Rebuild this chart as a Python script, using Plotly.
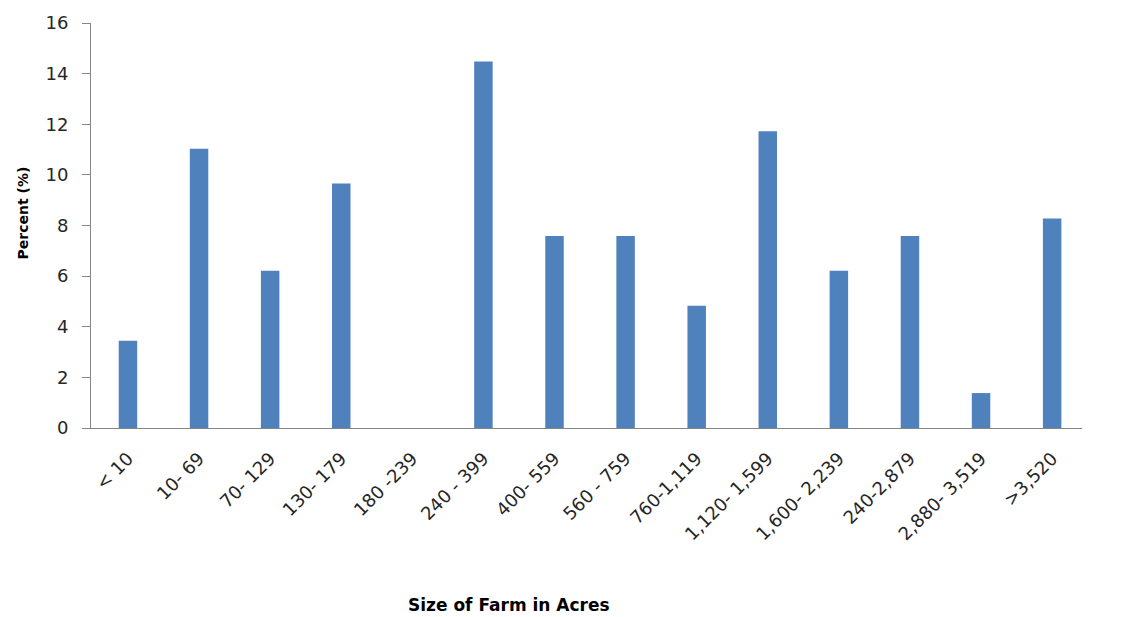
import plotly.graph_objects as go

# Farm size classes (acres) and share of farms in each class (%)
size_classes = ["< 10", "10- 69", "70- 129", "130- 179", "180 -239", "240 - 399",
                "400- 559", "560 - 759", "760-1,119", "1,120- 1,599", "1,600- 2,239",
                "240-2,879", "2,880- 3,519", ">3,520"]
percent = [3.45, 11.03, 6.21, 9.66, 0, 14.48, 7.59, 7.59, 4.83, 11.72, 6.21, 7.59, 1.38, 8.28]

y_ticks = [0, 2, 4, 6, 8, 10, 12, 14, 16]

axis_grey = "#868686"
text_col = "#262626"
font_family = "DejaVu Sans"

fig = go.Figure(
    go.Bar(
        x=size_classes,
        y=percent,
        marker=dict(color="#4F81BD", line=dict(width=0)),
        width=0.26,
    )
)

fig.update_layout(
    width=1126,
    height=617,
    margin=dict(l=91, r=44, t=19, b=189),
    plot_bgcolor="white",
    paper_bgcolor="white",
    showlegend=False,
    font=dict(family=font_family, size=17, color=text_col),
    xaxis=dict(
        type="category",
        range=[-0.52, 13.42],
        showline=True,
        linecolor=axis_grey,
        linewidth=1,
        ticks="",
        tickangle=-45,
        ticklabelstandoff=12,
        tickfont=dict(family=font_family, size=18, color=text_col),
        showgrid=False,
        zeroline=False,
    ),
    yaxis=dict(
        range=[0, 16],
        tickvals=y_ticks,
        showline=True,
        linecolor=axis_grey,
        linewidth=1,
        ticks="outside",
        ticklen=8,
        tickcolor=axis_grey,
        ticklabelstandoff=10,
        tickfont=dict(family=font_family, size=18, color=text_col),
        showgrid=False,
        zeroline=False,
    ),
    annotations=[
        dict(
            text="<b>Percent (%)</b>",
            xref="paper", yref="paper",
            x=0, y=0.5,
            xanchor="center", yanchor="middle",
            xshift=-69, yshift=12,
            textangle=-90,
            showarrow=False,
            font=dict(family=font_family, size=14, color="#000000"),
        ),
        dict(
            text="<b>Size of Farm in Acres</b>",
            xref="paper", yref="paper",
            x=0, y=0,
            xanchor="center", yanchor="middle",
            xshift=418, yshift=-177,
            showarrow=False,
            font=dict(family=font_family, size=17, color="#000000"),
        ),
    ],
)

fig.write_html("out.html")
